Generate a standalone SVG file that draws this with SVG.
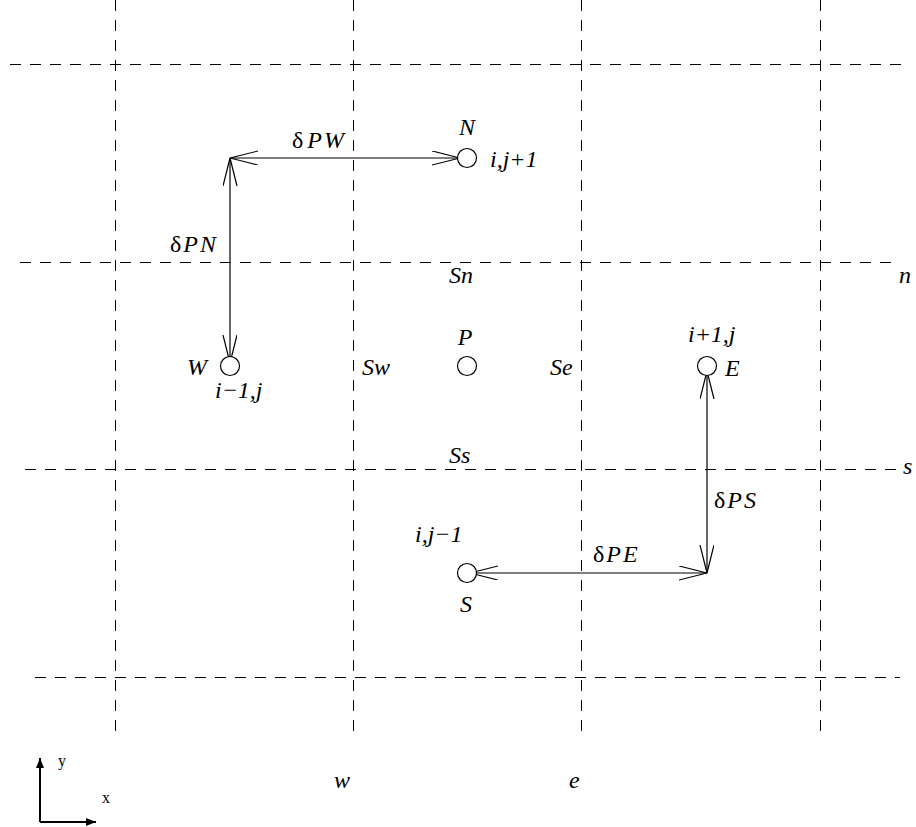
<svg xmlns="http://www.w3.org/2000/svg" width="916" height="827" viewBox="0 0 916 827">
<style>
.grid{stroke:#000;stroke-width:1;stroke-dasharray:11,9;fill:none}
.ln{stroke:#000;stroke-width:1.2;fill:none}
.c{stroke:#000;stroke-width:1.2;fill:#fff}
.d{letter-spacing:2px}
</style>
<defs>
<marker id="v" markerWidth="30" markerHeight="16" refX="28" refY="7" orient="auto-start-reverse" markerUnits="userSpaceOnUse">
<path d="M0,0 L28,7 L0,14" fill="none" stroke="#000" stroke-width="1.2"/>
</marker>
<marker id="f" markerWidth="12" markerHeight="10" refX="10" refY="4" orient="auto" markerUnits="userSpaceOnUse">
<path d="M0,0 L10,4 L0,8 Z" fill="#000"/>
</marker>
</defs>
<g id="grid">
<line class="grid" x1="115.5" y1="0" x2="115.5" y2="740"/>
<line class="grid" x1="353.5" y1="0" x2="353.5" y2="740"/>
<line class="grid" x1="581.5" y1="0" x2="581.5" y2="740"/>
<line class="grid" x1="820.5" y1="0" x2="820.5" y2="740"/>
<line class="grid" x1="10" y1="64.5" x2="908" y2="64.5"/>
<line class="grid" x1="20" y1="262.5" x2="900" y2="262.5"/>
<line class="grid" x1="25" y1="469.5" x2="905" y2="469.5"/>
<line class="grid" x1="35" y1="677.5" x2="900" y2="677.5"/>
</g>
<g id="connectors">
<line class="ln" x1="230" y1="158" x2="460" y2="158" marker-start="url(#v)" marker-end="url(#v)"/>
<line class="ln" x1="230" y1="158" x2="230" y2="363" marker-start="url(#v)" marker-end="url(#v)"/>
<line class="ln" x1="707" y1="371" x2="707" y2="573" marker-start="url(#v)" marker-end="url(#v)"/>
<line class="ln" x1="470" y1="573" x2="707" y2="573" marker-start="url(#v)" marker-end="url(#v)"/>
</g>
<g font-family="Liberation Serif, serif" font-style="italic" font-size="24" fill="#000">
<g id="N"><circle class="c" cx="467" cy="158" r="9.5"/><text x="467" y="135" text-anchor="middle">N</text><text x="490" y="167">i,j+1</text></g>
<g id="W"><circle class="c" cx="230" cy="366" r="9.5"/><text x="187" y="375">W</text><text x="215" y="398">i−1,j</text></g>
<g id="P"><circle class="c" cx="467" cy="366" r="9.5"/><text x="465" y="345" text-anchor="middle">P</text></g>
<g id="E"><circle class="c" cx="707" cy="366" r="9.5"/><text x="725" y="376">E</text><text x="688" y="342">i+1,j</text></g>
<g id="S"><circle class="c" cx="467" cy="573" r="9.5"/><text x="466" y="612" text-anchor="middle">S</text><text x="415" y="542">i,j−1</text></g>
<g id="labels">
<text class="d" x="292" y="148"><tspan font-style="normal" dx="0">δ</tspan><tspan dx="2">P</tspan>W</text>
<text class="d" x="170" y="252"><tspan font-style="normal">δ</tspan>PN</text>
<text class="d" x="714" y="508"><tspan font-style="normal">δ</tspan>PS</text>
<text class="d" x="593" y="562"><tspan font-style="normal">δ</tspan>PE</text>
<text x="449" y="283">Sn</text>
<text x="362" y="375">Sw</text>
<text x="550" y="375">Se</text>
<text x="449" y="463">Ss</text>
<text x="899" y="283">n</text>
<text x="903" y="474">s</text>
<text x="334" y="788">w</text>
<text x="569" y="788">e</text>
</g>
</g>
<g id="axes">
<line stroke="#000" stroke-width="2" x1="40" y1="822" x2="40" y2="758" marker-end="url(#f)"/>
<line stroke="#000" stroke-width="2" x1="40" y1="822" x2="96" y2="822" marker-end="url(#f)"/>
<text font-family="Liberation Serif, serif" font-size="16" x="58" y="766">y</text>
<text font-family="Liberation Serif, serif" font-size="16" x="102" y="803">x</text>
</g>
</svg>
